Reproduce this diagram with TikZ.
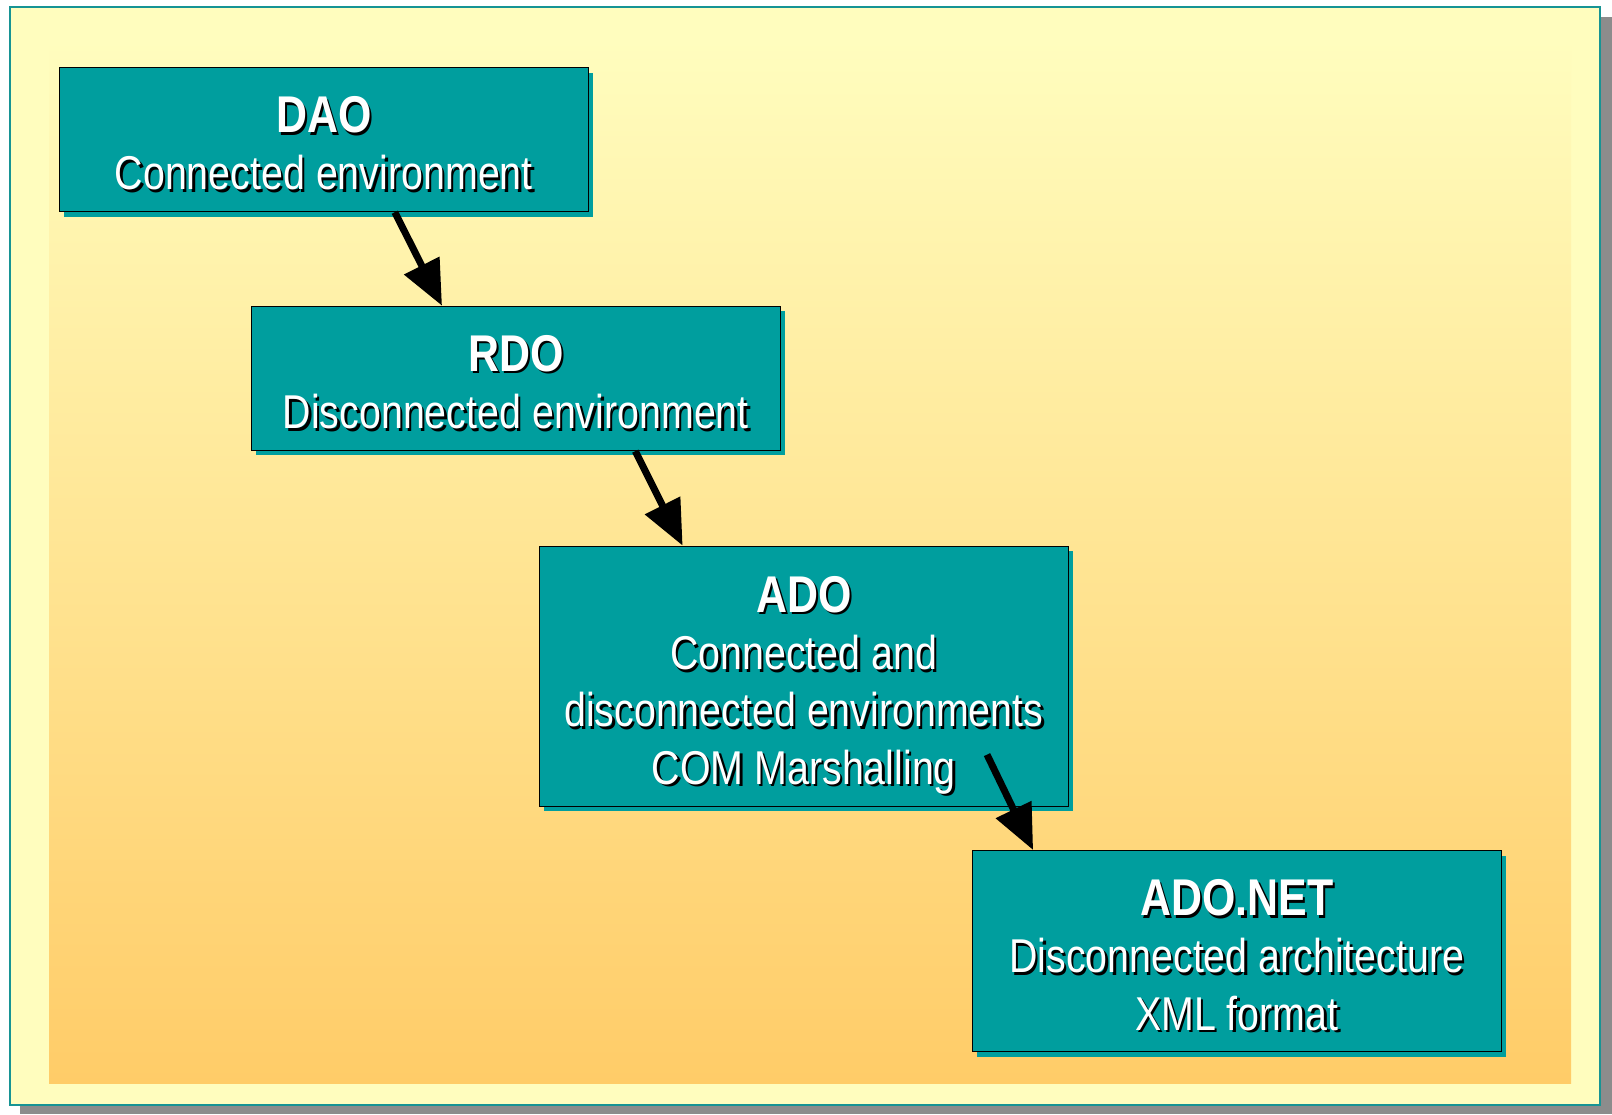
\documentclass[tikz,border=0pt]{standalone}
\usepackage{fontspec}
\setmainfont{Liberation Sans}[FakeStretch=0.83]
\usepackage{tikz}
\usetikzlibrary{positioning,shadows,arrows.meta}

\definecolor{boxteal}{HTML}{009E9E}
\definecolor{frameteal}{HTML}{179494}
\definecolor{paleyellow}{HTML}{FFFDBE}
\definecolor{warmorange}{HTML}{FFCC68}

\newcommand\shtxt[1]{\makebox[0pt][l]{\kern0.7pt\raisebox{-0.7pt}{\color{black}#1}}#1}
\newcommand\ttl[2][13.2pt]{{\rule{0pt}{#1}\fontsize{14.7pt}{17pt}\selectfont\bfseries\shtxt{#2}}}

\begin{document}
\begin{tikzpicture}[
  box/.style={rectangle,draw=black,fill=boxteal,thin,text=white,
              minimum width=5.29cm, minimum height=1.44cm, align=center,
              inner sep=0pt, anchor=north west,
              drop shadow={shadow xshift=0.05cm,shadow yshift=-0.05cm,
                           fill=boxteal,opacity=1},
              font=\fontsize{13.5pt}{16.3pt}\selectfont},
  link/.style={-{Triangle[length=0.45cm,width=0.38cm]}, line width=0.07cm}
]
  \useasboundingbox (0,0) rectangle (16.12,-11.14);
  \fill[black!45] (0.20,-0.17) rectangle (16.12,-11.14);
  \draw[frameteal, fill=paleyellow, line width=0.6pt] (0.10,-0.07) rectangle (16.00,-11.05);
  \shade[top color=paleyellow, bottom color=warmorange] (0.49,-0.40) rectangle (15.71,-10.83);

  \node[box] (dao) at (0.586,-0.668) {\ttl{DAO}\\\shtxt{Connected environment}};
  \node[box] (rdo) at ([shift={(1.92,-0.935)}]dao.south west)
        {\ttl{RDO}\\\shtxt{Disconnected environment}};
  \node[box, minimum height=2.6cm] (ado) at ([shift={(2.88,-0.945)}]rdo.south west)
        {\ttl[16pt]{ADO}\\\shtxt{Connected and}\\\shtxt{disconnected environments}\\\shtxt{COM Marshalling}};
  \node[box, minimum height=2.01cm] (adonet) at ([shift={(4.33,-0.43)}]ado.south west)
        {\ttl{ADO.NET}\\\shtxt{Disconnected architecture}\\\shtxt{XML format}};

  \draw[link] ([xshift=3.362cm]dao.south west) -- ([xshift=1.914cm]rdo.north west);
  \draw[link] ([xshift=3.847cm]rdo.south west) -- ([xshift=1.44cm]ado.north west);
  \draw[link] ([shift={(4.484,0.524)}]ado.south west) -- ([xshift=0.615cm]adonet.north west);
\end{tikzpicture}
\end{document}
